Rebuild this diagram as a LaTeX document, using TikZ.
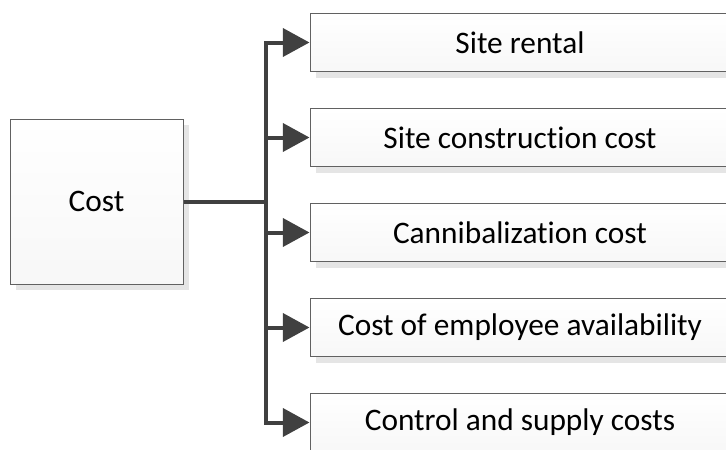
\documentclass[tikz,border=0pt]{standalone}
\usepackage{fontspec}
\setmainfont{Carlito}[Ligatures={NoCommon,NoRare,NoContextual}, Contextuals=NoAlternate]
\usetikzlibrary{arrows.meta,shadows}

\begin{document}
\begin{tikzpicture}[x=0.75pt, y=-0.75pt,
    every node/.style = {shape=rectangle, draw=black!62, line width=0.75pt, align=center,
      top color=white, bottom color=black!3, font=\fontsize{23.5}{28}\selectfont,
      drop shadow={shadow xshift=4.5pt, shadow yshift=-4.5pt, fill=black!10, opacity=1}},
    item/.style = {minimum width=315pt, minimum height=43.5pt},
    link/.style = {draw=black!75, line width=3pt},
    arrowlink/.style = {link, -{Triangle[length=20pt, width=21pt]}}]
    \clip (0,0) rectangle (726,450);
    \node[minimum width=129.75pt, minimum height=123.75pt] (cost) at (96.5,201.5) {Cost};
    \node[item] (rental) at (520,42.5) {Site rental};
    \node[item] (construction) at (520,137.5) {Site construction cost};
    \node[item] (cannibal) at (520,232.5) {Cannibalization cost};
    \node[item] (employee) at (520,327.5) {Cost of employee availability};
    \node[item] (supply) at (520,422.5) {Control and supply costs};
    \coordinate (split) at (266,201.5);
    \draw[link] (cost.east) -- (split);
    \draw[arrowlink] (split) |- (rental.west);
    \draw[arrowlink] (split) |- (construction.west);
    \draw[arrowlink] (split) |- (cannibal.west);
    \draw[arrowlink] (split) |- (employee.west);
    \draw[arrowlink] (split) |- (supply.west);
\end{tikzpicture}
\end{document}
